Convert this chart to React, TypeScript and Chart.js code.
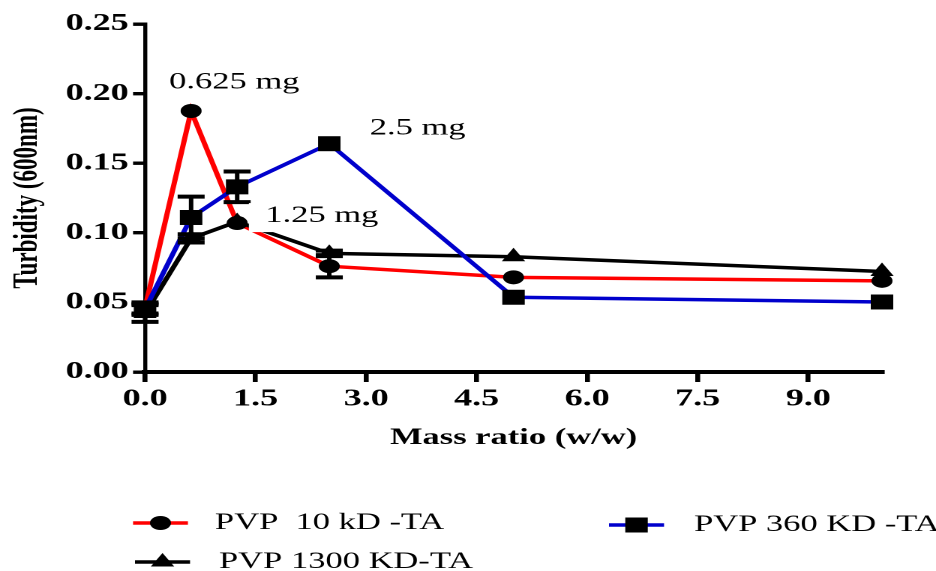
import React, { useEffect, useRef } from 'react';
import { Chart, registerables } from 'chart.js';

Chart.register(...registerables);

// ---- data ----
const massRatio = [0, 0.625, 1.25, 2.5, 5, 10];
const pvp10 = [0.046, 0.1875, 0.107, 0.076, 0.068, 0.0655];
const pvp10Err = [0.004, 0, 0, 0.008, 0, 0];
const pvp1300 = [0.042, 0.096, 0.108, 0.0852, 0.0828, 0.0722];
const pvp1300Err = [0.006, 0.003, 0, 0.002, 0, 0];
const pvp360 = [0.045, 0.111, 0.133, 0.164, 0.0537, 0.0503];
const pvp360Err = [0.004, 0.015, 0.011, 0, 0, 0];

const seriesLabels = ['PVP  10 kD -TA', 'PVP 1300 KD-TA', 'PVP 360 KD -TA'];
const annotationTexts = ['0.625 mg', '2.5 mg', '1.25 mg'];
const annotationX = [1.21, 3.7, 2.4];
const annotationY = [0.208, 0.175, 0.112];

const SERIF = '"Liberation Serif", "Times New Roman", serif';
const STRETCH = 1.5;
const W = 936;
const H = 571;

function drawMarker(ctx: CanvasRenderingContext2D, style: string, x: number, y: number) {
  ctx.beginPath();
  if (style === 'circle') {
    ctx.arc(x, y, 7, 0, Math.PI * 2);
  } else if (style === 'rect') {
    ctx.rect(x - 7.5, y - 7.5, 15, 15);
  } else {
    ctx.moveTo(x, y - 9);
    ctx.lineTo(x + 7.8, y + 4.5);
    ctx.lineTo(x - 7.8, y + 4.5);
    ctx.closePath();
  }
  ctx.fillStyle = '#000';
  ctx.fill();
}

const errorBarPlugin = {
  id: 'errorBars',
  afterDatasetsDraw(chart: any) {
    const ctx = chart.ctx as CanvasRenderingContext2D;
    const yScale = chart.scales.y;
    ctx.save();
    ctx.strokeStyle = '#000';
    chart.data.datasets.forEach((ds: any, i: number) => {
      const meta = chart.getDatasetMeta(i);
      const errs: number[] = ds.errors || [];
      meta.data.forEach((pt: any, j: number) => {
        const e = errs[j];
        if (!e) return;
        const v = ds.data[j].y;
        const yTop = yScale.getPixelForValue(v + e);
        const yBot = yScale.getPixelForValue(v - e);
        ctx.lineWidth = 3;
        ctx.beginPath();
        ctx.moveTo(pt.x, yTop);
        ctx.lineTo(pt.x, yBot);
        ctx.stroke();
        ctx.lineWidth = 4;
        ctx.beginPath();
        ctx.moveTo(pt.x - 9, yTop);
        ctx.lineTo(pt.x + 9, yTop);
        ctx.moveTo(pt.x - 9, yBot);
        ctx.lineTo(pt.x + 9, yBot);
        ctx.stroke();
      });
    });
    ctx.restore();
  },
};

const annotationPlugin = {
  id: 'massAnnotations',
  afterDatasetsDraw(chart: any) {
    const ctx = chart.ctx as CanvasRenderingContext2D;
    const xs = chart.scales.x;
    const ys = chart.scales.y;
    ctx.save();
    ctx.font = `23px ${SERIF}`;
    ctx.textAlign = 'center';
    ctx.textBaseline = 'middle';
    annotationTexts.forEach((t, i) => {
      const px = xs.getPixelForValue(annotationX[i]);
      const py = ys.getPixelForValue(annotationY[i]);
      const w = ctx.measureText(t).width;
      if (i === 2) {
        ctx.fillStyle = '#fff';
        ctx.fillRect(px - w / 2 - 11, py - 13, w + 14, 29);
      }
      ctx.fillStyle = '#000';
      ctx.fillText(t, px, py);
    });
    ctx.restore();
  },
};

const legendPlugin = {
  id: 'customLegend',
  afterDraw(chart: any) {
    const ctx = chart.ctx as CanvasRenderingContext2D;
    const items = [
      { label: seriesLabels[0], color: '#ff0000', style: 'circle', x0: 88.7, x1: 125.3, y: 523, tx: 143.3 },
      { label: seriesLabels[2], color: '#0000cc', style: 'rect', x0: 406, x1: 442.7, y: 525, tx: 462.7 },
      { label: seriesLabels[1], color: '#000000', style: 'triangle', x0: 90, x1: 126.7, y: 562, tx: 146 },
    ];
    ctx.save();
    items.forEach((it) => {
      ctx.strokeStyle = it.color;
      ctx.lineWidth = 3.5;
      ctx.beginPath();
      ctx.moveTo(it.x0, it.y);
      ctx.lineTo(it.x1, it.y);
      ctx.stroke();
      drawMarker(ctx, it.style, (it.x0 + it.x1) / 2, it.y);
      ctx.fillStyle = '#000';
      ctx.font = `23px ${SERIF}`;
      ctx.textAlign = 'left';
      ctx.textBaseline = 'middle';
      ctx.fillText(it.label, it.tx, it.y);
    });
    ctx.restore();
  },
};

function toPoints(ys: number[]) {
  return massRatio.map((x, i) => ({ x, y: ys[i] }));
}

export default function App() {
  const canvasRef = useRef<HTMLCanvasElement | null>(null);

  useEffect(() => {
    if (!canvasRef.current) return;
    const tickFont = { family: SERIF, size: 24, weight: 'bold' as const };
    const chart = new Chart(canvasRef.current, {
      type: 'line',
      data: {
        datasets: [
          {
            label: seriesLabels[0],
            data: toPoints(pvp10),
            errors: pvp10Err,
            borderColor: '#ff0000',
            borderWidth: 3.5,
            pointStyle: 'circle',
            pointRadius: 7,
            pointBackgroundColor: '#000',
            pointBorderColor: '#000',
            pointBorderWidth: 0,
            clip: false,
            order: 3,
          } as any,
          {
            label: seriesLabels[1],
            data: toPoints(pvp1300),
            errors: pvp1300Err,
            borderColor: '#000000',
            borderWidth: 3.5,
            pointStyle: 'triangle',
            pointRadius: 9,
            pointBackgroundColor: '#000',
            pointBorderColor: '#000',
            pointBorderWidth: 0,
            clip: false,
            order: 2,
          } as any,
          {
            label: seriesLabels[2],
            data: toPoints(pvp360),
            errors: pvp360Err,
            borderColor: '#0000cc',
            borderWidth: 3.5,
            pointStyle: 'rect',
            pointRadius: 10.6,
            pointBackgroundColor: '#000',
            pointBorderColor: '#000',
            pointBorderWidth: 0,
            clip: false,
            order: 1,
          } as any,
        ],
      },
      options: {
        responsive: false,
        animation: false,
        devicePixelRatio: 2,
        layout: { padding: { top: 24, right: 36, bottom: 119, left: 0 } },
        plugins: {
          legend: { display: false },
          tooltip: { enabled: false },
        },
        elements: { line: { tension: 0 } },
        scales: {
          x: {
            type: 'linear',
            min: 0,
            max: 10,
            border: { display: true, color: '#000', width: 4 },
            grid: { display: true, drawOnChartArea: false, drawTicks: true, tickLength: 10, color: '#000', lineWidth: 3.3 },
            ticks: {
              stepSize: 1.5,
              includeBounds: false,
              autoSkip: false,
              maxRotation: 0,
              padding: 3,
              color: '#000',
              font: tickFont,
              callback: (v: any) => Number(v).toFixed(1),
            },
            title: {
              display: true,
              text: 'Mass ratio (w/w)',
              color: '#000',
              font: { family: SERIF, size: 23, weight: 'bold' },
              padding: { top: 0, bottom: 0 },
            },
            afterFit: (scale: any) => {
              scale.height = 80;
            },
          },
          y: {
            type: 'linear',
            min: 0,
            max: 0.25,
            border: { display: true, color: '#000', width: 2.7 },
            grid: { display: true, drawOnChartArea: false, drawTicks: true, tickLength: 8, color: '#000', lineWidth: 3.4 },
            ticks: {
              stepSize: 0.05,
              padding: 3,
              color: '#000',
              font: tickFont,
              callback: (v: any) => Number(v).toFixed(2),
            },
            title: {
              display: true,
              text: 'Turbidity (600nm)',
              color: '#000',
              font: { family: SERIF, size: 23, weight: 'bold' },
              padding: { top: 5, bottom: 0 },
            },
            afterFit: (scale: any) => {
              scale.width = 96.7;
            },
          },
        },
      } as any,
      plugins: [errorBarPlugin, annotationPlugin, legendPlugin],
    });
    return () => chart.destroy();
  }, []);

  return (
    <div style={{ position: 'absolute', left: 0, top: 0, width: W, height: H, background: '#fff' }}>
      <canvas
        ref={canvasRef}
        width={Math.round(W / STRETCH)}
        height={H}
        style={{ width: `${W}px`, height: `${H}px`, display: 'block' }}
      />
    </div>
  );
}
